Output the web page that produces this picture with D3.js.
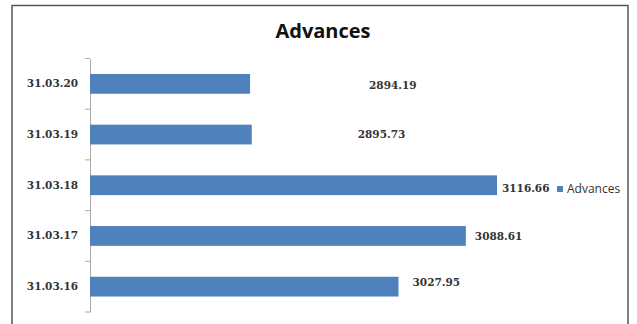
<!doctype html>
<html lang="en">
<head>
    <meta charset="utf-8">
    <script src="https://d3js.org/d3.v7.min.js"></script>
    <title>Advances</title>
    <style>
        body { margin: 0; background: #fff; }
    </style>
</head>
<body>
    <div id="chart"></div>

    <script>
        // data (top to bottom)
        var categories = ["31.03.20", "31.03.19", "31.03.18", "31.03.17", "31.03.16"];
        var advances = [2894.19, 2895.73, 3116.66, 3088.61, 3027.95];
        var seriesName = "Advances";

        var width = 637, height = 324;

        var svg = d3.select("#chart")
            .append("svg")
            .attr("width", width)
            .attr("height", height);

        // chart frame
        svg.append("rect")
            .attr("x", 12)
            .attr("y", 5.5)
            .attr("width", 616)
            .attr("height", 330)
            .attr("fill", "#fff")
            .attr("stroke", "#555")
            .attr("stroke-width", 1.5);

        svg.append("text")
            .attr("x", 323)
            .attr("y", 38)
            .attr("text-anchor", "middle")
            .style("font-family", "'Open Sans', sans-serif")
            .style("font-size", "20px")
            .style("font-weight", "bold")
            .style("fill", "#111")
            .text(seriesName);

        // value axis does not start at zero
        var x = d3.scaleLinear()
            .domain([2750, 3150])
            .range([90, 534]);

        var y = d3.scaleBand()
            .domain(categories)
            .range([58.5, 312])
            .paddingInner(0.61)
            .paddingOuter(0.305);

        var yAxis = svg.append("g")
            .attr("transform", "translate(90,0)")
            .call(d3.axisLeft(y).tickSize(0).tickPadding(12));

        yAxis.select(".domain").attr("stroke", "#aaa");
        yAxis.selectAll("text")
            .style("font-family", "'DejaVu Serif', serif")
            .style("font-size", "10.5px")
            .style("font-weight", "bold")
            .style("fill", "#333");

        // tick marks sit between the categories
        var bounds = categories.map(function (d) { return y(d) - y.step() * y.paddingInner() / 2; });
        bounds.push(y.range()[1]);
        svg.append("g")
            .selectAll("line")
            .data(bounds)
            .enter()
            .append("line")
            .attr("x1", 85)
            .attr("x2", 90)
            .attr("y1", function (d) { return d; })
            .attr("y2", function (d) { return d; })
            .attr("stroke", "#aaa");

        svg.append("g")
            .selectAll("rect")
            .data(advances)
            .enter()
            .append("rect")
            .attr("x", x(2750))
            .attr("y", function (d, i) { return y(categories[i]); })
            .attr("width", function (d) { return x(d) - x(2750); })
            .attr("height", y.bandwidth())
            .attr("fill", "#4f81bd");

        // labels were dragged around by hand in the original
        var nudge = [[119, 1], [106, 0], [5, 3.5], [9, 0], [14, -4]];

        svg.append("g")
            .selectAll("text")
            .data(advances)
            .enter()
            .append("text")
            .attr("x", function (d, i) { return x(d) + nudge[i][0]; })
            .attr("y", function (d, i) { return y(categories[i]) + y.bandwidth() / 2 + nudge[i][1]; })
            .attr("dy", "0.35em")
            .style("font-family", "'DejaVu Serif', serif")
            .style("font-size", "10.5px")
            .style("font-weight", "bold")
            .style("fill", "#333")
            .text(function (d) { return d.toFixed(2); });

        // legend
        var legend = svg.append("g").attr("transform", "translate(557,189)");
        legend.append("rect")
            .attr("x", 0)
            .attr("y", -3)
            .attr("width", 6)
            .attr("height", 6)
            .attr("fill", "#4f81bd");
        legend.append("text")
            .attr("x", 10)
            .attr("y", 0)
            .attr("dy", "0.35em")
            .style("font-family", "'Open Sans', sans-serif")
            .style("font-size", "12px")
            .style("fill", "#333")
            .text(seriesName);
    </script>
</body>
</html>
